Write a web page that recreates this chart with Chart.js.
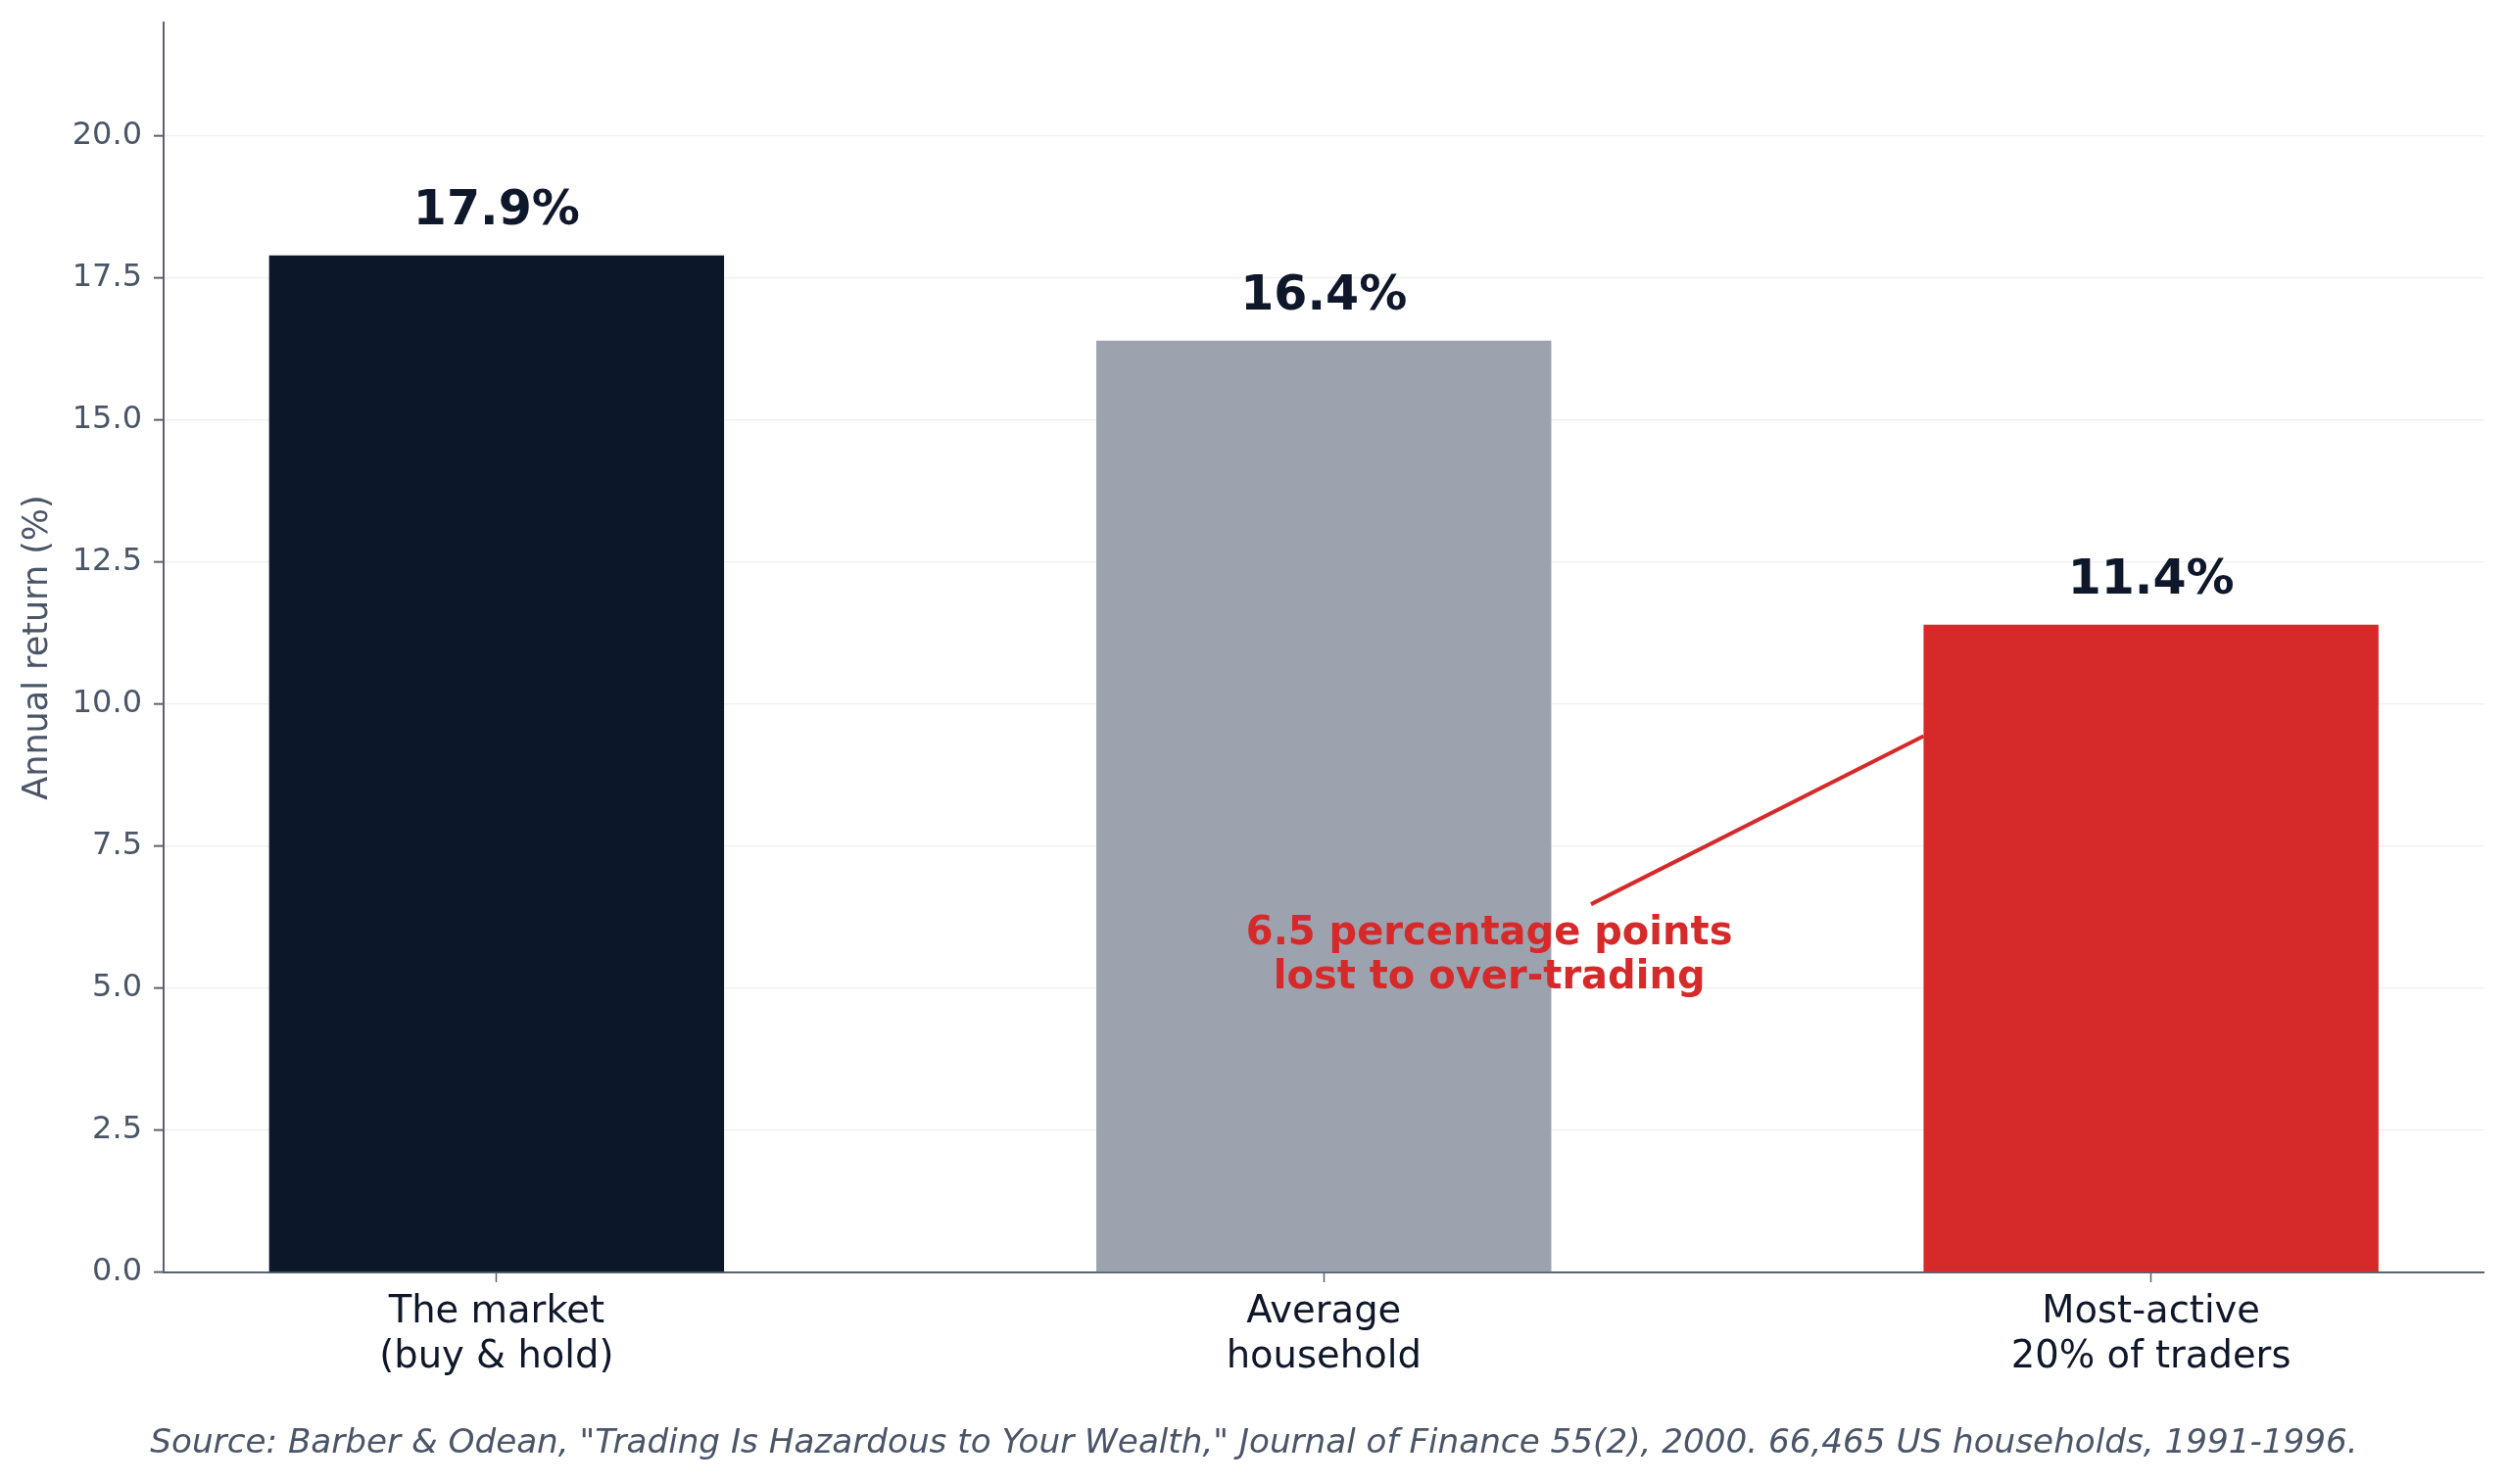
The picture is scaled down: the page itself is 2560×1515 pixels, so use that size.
<!DOCTYPE html>
<html>
<head>
<meta charset="utf-8">
<script src="https://cdn.jsdelivr.net/npm/chart.js@4/dist/chart.umd.min.js"></script>
<style>
  html, body { margin: 0; padding: 0; background: #ffffff; }
  #wrap { width: 2560px; height: 1515px; position: relative; }
</style>
</head>
<body>
<div id="wrap"><canvas id="c"></canvas></div>
<script>
// ---- data ----
const categories = [
  ['The market', '(buy & hold)'],
  ['Average', 'household'],
  ['Most-active', '20% of traders']
];
const categoryPositions = [0, 1, 2];
const returns = [17.9, 16.4, 11.4];
const valueLabels = ['17.9%', '16.4%', '11.4%'];
const barColors = ['#0c1729', '#9ca3af', '#d62929'];
const yTicks = [0, 2.5, 5, 7.5, 10, 12.5, 15, 17.5, 20];
const yMin = 0, yMax = 22;
const xMin = -0.4025, xMax = 2.4025;
const annotationLines = ['6.5 percentage points', 'lost to over-trading'];
const annotationAnchor = { x: 1.2, y: 5.6 };
const arrowFrom = { x: 1.323, y: 6.48 };
const arrowTo = { x: 1.725, y: 9.44 };
const sourceText = 'Source: Barber & Odean, "Trading Is Hazardous to Your Wealth," Journal of Finance 55(2), 2000. 66,465 US households, 1991-1996.';
const yTitle = 'Annual return (%)';

const FONT = "'DejaVu Sans', 'Liberation Sans', sans-serif";
const AXIS = '#5a6272';
const TICKTXT = '#4a5568';
const DARK = '#0f172a';
const RED = '#d62929';

const overlay = {
  id: 'overlay',
  afterDatasetsDraw(chart) {
    const ctx = chart.ctx;
    const xs = chart.scales.x, ys = chart.scales.y;
    ctx.save();
    // value labels
    ctx.fillStyle = DARK;
    ctx.font = 'bold 49px ' + FONT;
    ctx.textAlign = 'center';
    ctx.textBaseline = 'alphabetic';
    returns.forEach((v, i) => {
      const px = xs.getPixelForValue(categoryPositions[i]);
      const py = ys.getPixelForValue(v) - 32;
      ctx.fillText(valueLabels[i], px, py);
    });
    // arrow line
    ctx.strokeStyle = RED;
    ctx.lineWidth = 4;
    ctx.lineCap = 'butt';
    ctx.beginPath();
    ctx.moveTo(xs.getPixelForValue(arrowFrom.x), ys.getPixelForValue(arrowFrom.y));
    ctx.lineTo(xs.getPixelForValue(arrowTo.x), ys.getPixelForValue(arrowTo.y));
    ctx.stroke();
    // annotation text
    ctx.fillStyle = RED;
    ctx.font = 'bold 40px ' + FONT;
    const ax = xs.getPixelForValue(annotationAnchor.x);
    const ay = ys.getPixelForValue(annotationAnchor.y);
    ctx.fillText(annotationLines[0], ax, ay - 10);
    ctx.fillText(annotationLines[1], ax, ay + 35);
    ctx.restore();
  }
};

new Chart(document.getElementById('c'), {
  type: 'bar',
  data: {
    datasets: [{
      data: returns.map((v, i) => ({ x: categoryPositions[i], y: v })),
      backgroundColor: barColors,
      borderWidth: 0,
      barPercentage: 0.55,
      categoryPercentage: 1.0
    }]
  },
  options: {
    responsive: true,
    maintainAspectRatio: false,
    animation: false,
    layout: { padding: 0 },
    plugins: {
      legend: { display: false },
      tooltip: { enabled: false },
      title: {
        display: true,
        position: 'bottom',
        text: sourceText,
        color: TICKTXT,
        font: { family: FONT, size: 34.2, style: 'italic', weight: 'normal' },
        padding: { top: 0, bottom: 20 }
      }
    },
    scales: {
      x: {
        type: 'linear',
        min: xMin,
        max: xMax,
        offset: false,
        afterBuildTicks(scale) { scale.ticks = categoryPositions.map(v => ({ value: v })); },
        afterFit(scale) {
          scale.height = 155;
          scale.paddingLeft = 0;
          scale.paddingRight = 24.5;
        },
        ticks: {
          autoSkip: false,
          maxRotation: 0,
          color: DARK,
          padding: 8,
          font: { family: FONT, size: 38.5 },
          callback: (value) => categories[categoryPositions.indexOf(value)] || ''
        },
        grid: {
          offset: false,
          drawOnChartArea: false,
          drawTicks: true,
          tickLength: 10,
          tickColor: AXIS,
          tickWidth: 1.5
        },
        border: { display: true, color: AXIS, width: 2 }
      },
      y: {
        min: yMin,
        max: yMax,
        afterBuildTicks(scale) { scale.ticks = yTicks.map(v => ({ value: v })); },
        afterFit(scale) {
          scale.width = 167;
          scale.paddingTop = 23;
          scale.paddingBottom = 0;
        },
        ticks: {
          color: TICKTXT,
          padding: 12,
          font: { family: FONT, size: 32 },
          callback: (v) => Number(v).toFixed(1)
        },
        grid: {
          color: '#efefef',
          lineWidth: 1.3,
          drawTicks: true,
          tickLength: 10,
          tickColor: AXIS,
          tickWidth: 2
        },
        border: { display: true, color: AXIS, width: 2 },
        title: {
          display: true,
          text: yTitle,
          color: TICKTXT,
          font: { family: FONT, size: 35 },
          padding: { top: 18, bottom: 0 }
        }
      }
    }
  },
  plugins: [overlay]
});
</script>
</body>
</html>
